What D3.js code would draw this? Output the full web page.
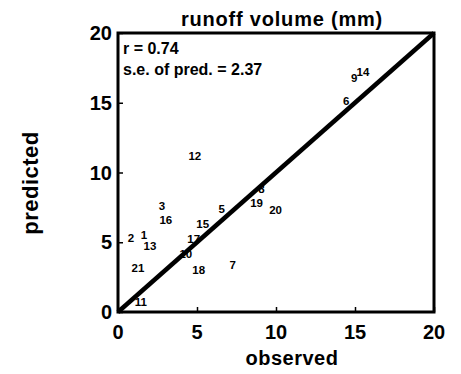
<!DOCTYPE html>
<html>
<head>
<meta charset="utf-8">
<script src="https://cdn.jsdelivr.net/npm/d3@7"></script>
<style>
  body { margin: 0; background: #fff; }
  text { font-family: "Liberation Sans", Arial, sans-serif; font-weight: bold; fill: #000; }
</style>
</head>
<body>
<div id="chart"></div>
<script>
// storm event ids and their observed / predicted runoff (mm)
var events    = ["1", "2", "3", "5", "6", "7", "8", "9", "10", "11", "12", "13", "14", "15", "16", "17", "18", "19", "20", "21"];
var observed  = [1.64, 0.82, 2.78, 6.56, 14.45, 7.26, 9.08, 14.95, 4.29, 1.45, 4.86, 2.02, 15.5, 5.36, 3.03, 4.79, 5.11, 8.77, 9.97, 1.26];
var predicted = [5.5, 5.29, 7.64, 7.36, 15.1, 3.36, 8.86, 16.8, 4.14, 0.71, 11.2, 4.71, 17.2, 6.29, 6.57, 5.21, 3.0, 7.79, 7.29, 3.14];
var tickVals  = [0, 5, 10, 15, 20];
var stats     = ["r = 0.74", "s.e. of pred. = 2.37"];

var margin = {top: 33, right: 27, bottom: 62, left: 118},
    width = 461 - margin.left - margin.right,
    height = 374 - margin.top - margin.bottom;

var svg = d3.select("#chart").append("svg")
    .attr("width", 461)
    .attr("height", 374);

var g = svg.append("g")
    .attr("transform", "translate(" + margin.left + "," + margin.top + ")");

var x = d3.scaleLinear().domain([0, 20]).range([0, width]);
var y = d3.scaleLinear().domain([0, 20]).range([height, 0]);

// inward ticks, labels drawn separately
var xAxis = g.append("g")
    .attr("transform", "translate(0," + height + ")")
    .call(d3.axisBottom(x).tickValues(tickVals).tickSize(-5).tickFormat(""));
var yAxis = g.append("g")
    .call(d3.axisLeft(y).tickValues(tickVals).tickSize(-5).tickFormat(""));
[xAxis, yAxis].forEach(function(a) {
    a.select(".domain").remove();
    a.selectAll("line").attr("stroke", "#000").attr("stroke-width", 1.5);
});

g.selectAll(".xlab").data(tickVals).enter().append("text")
    .attr("x", function(d) { return x(d); })
    .attr("y", height + 27)
    .attr("text-anchor", "middle")
    .style("font-size", "20px")
    .text(function(d) { return d; });

g.selectAll(".ylab").data(tickVals).enter().append("text")
    .attr("x", -6)
    .attr("y", function(d) { return y(d); })
    .attr("dy", "0.36em")
    .attr("text-anchor", "end")
    .style("font-size", "20px")
    .text(function(d) { return d; });

// frame
g.append("rect")
    .attr("width", width)
    .attr("height", height)
    .attr("fill", "none")
    .attr("stroke", "#000")
    .attr("stroke-width", 3);

// 1:1 line
g.append("line")
    .attr("x1", x(0)).attr("y1", y(0))
    .attr("x2", x(20)).attr("y2", y(20))
    .attr("stroke", "#000")
    .attr("stroke-width", 4.5);

// event numbers used as markers
g.selectAll(".pt").data(events).enter().append("text")
    .attr("class", "pt")
    .attr("x", function(d, i) { return x(observed[i]); })
    .attr("y", function(d, i) { return y(predicted[i]); })
    .attr("dy", "0.36em")
    .attr("text-anchor", "middle")
    .style("font-size", "11.5px")
    .text(function(d) { return d; });

g.selectAll(".stat").data(stats).enter().append("text")
    .attr("x", 5)
    .attr("y", function(d, i) { return 21 + i * 21; })
    .style("font-size", "16px")
    .text(function(d) { return d; });

svg.append("text")
    .attr("x", margin.left + width / 2 + 6)
    .attr("y", 26)
    .attr("text-anchor", "middle")
    .style("font-size", "20px")
    .style("letter-spacing", "0.8px")
    .text("runoff volume (mm)");

svg.append("text")
    .attr("x", 292)
    .attr("y", 365)
    .attr("text-anchor", "middle")
    .style("font-size", "20px")
    .style("letter-spacing", "0.5px")
    .text("observed");

svg.append("text")
    .attr("transform", "translate(38,183) rotate(-90)")
    .attr("text-anchor", "middle")
    .style("font-size", "22px")
    .style("letter-spacing", "0.5px")
    .text("predicted");
</script>
</body>
</html>
